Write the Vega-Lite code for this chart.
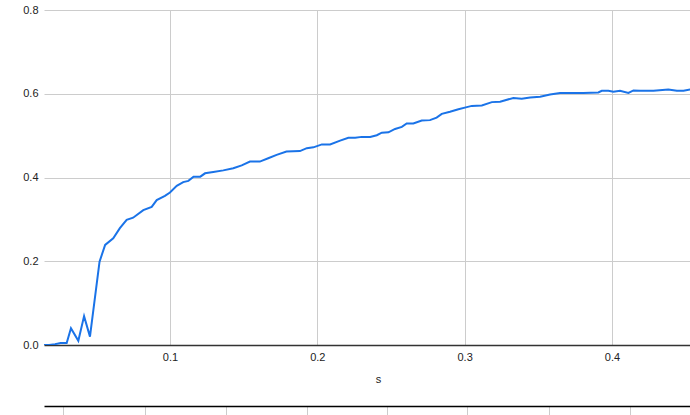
{
  "$schema": "https://vega.github.io/schema/vega-lite/v6.json",
  "autosize": {"type": "none"},
  "width": 646,
  "height": 335,
  "padding": {"left": 44, "top": 10, "right": 0, "bottom": 70},
  "background": "white",
  "config": {
    "view": {"stroke": null},
    "font": "Liberation Sans",
    "axis": {"labelFont": "Liberation Sans", "titleFont": "Liberation Sans", "labelFontSize": 11, "labelColor": "#222", "titleColor": "#222", "titleFontWeight": "normal", "titleFontSize": 11}
  },
  "data": {"values": [
    {"s": 0.0140, "v": 0.0},
    {"s": 0.0180, "v": 0.0},
    {"s": 0.0220, "v": 0.002},
    {"s": 0.0258, "v": 0.005},
    {"s": 0.0299, "v": 0.005},
    {"s": 0.0328, "v": 0.040},
    {"s": 0.0378, "v": 0.010},
    {"s": 0.0417, "v": 0.069},
    {"s": 0.0457, "v": 0.020},
    {"s": 0.0522, "v": 0.199},
    {"s": 0.0560, "v": 0.239},
    {"s": 0.0615, "v": 0.255},
    {"s": 0.0660, "v": 0.279},
    {"s": 0.0706, "v": 0.299},
    {"s": 0.0750, "v": 0.304},
    {"s": 0.0819, "v": 0.322},
    {"s": 0.0876, "v": 0.330},
    {"s": 0.0910, "v": 0.346},
    {"s": 0.0966, "v": 0.356},
    {"s": 0.1000, "v": 0.364},
    {"s": 0.1046, "v": 0.380},
    {"s": 0.1090, "v": 0.389},
    {"s": 0.1125, "v": 0.392},
    {"s": 0.1160, "v": 0.402},
    {"s": 0.1206, "v": 0.402},
    {"s": 0.1238, "v": 0.410},
    {"s": 0.1294, "v": 0.413},
    {"s": 0.1362, "v": 0.417},
    {"s": 0.1430, "v": 0.422},
    {"s": 0.1487, "v": 0.429},
    {"s": 0.1543, "v": 0.438},
    {"s": 0.1610, "v": 0.438},
    {"s": 0.1667, "v": 0.446},
    {"s": 0.1724, "v": 0.454},
    {"s": 0.1791, "v": 0.462},
    {"s": 0.1882, "v": 0.463},
    {"s": 0.1929, "v": 0.470},
    {"s": 0.1974, "v": 0.472},
    {"s": 0.2031, "v": 0.479},
    {"s": 0.2087, "v": 0.479},
    {"s": 0.2155, "v": 0.488},
    {"s": 0.2211, "v": 0.495},
    {"s": 0.2257, "v": 0.495},
    {"s": 0.2302, "v": 0.497},
    {"s": 0.2359, "v": 0.497},
    {"s": 0.2404, "v": 0.501},
    {"s": 0.2438, "v": 0.507},
    {"s": 0.2483, "v": 0.508},
    {"s": 0.2528, "v": 0.516},
    {"s": 0.2574, "v": 0.521},
    {"s": 0.2607, "v": 0.529},
    {"s": 0.2652, "v": 0.529},
    {"s": 0.2709, "v": 0.536},
    {"s": 0.2765, "v": 0.537},
    {"s": 0.2810, "v": 0.543},
    {"s": 0.2845, "v": 0.552},
    {"s": 0.2901, "v": 0.557},
    {"s": 0.2958, "v": 0.563},
    {"s": 0.3015, "v": 0.568},
    {"s": 0.3049, "v": 0.571},
    {"s": 0.3117, "v": 0.572},
    {"s": 0.3185, "v": 0.580},
    {"s": 0.3241, "v": 0.581},
    {"s": 0.3331, "v": 0.590},
    {"s": 0.3388, "v": 0.588},
    {"s": 0.3445, "v": 0.591},
    {"s": 0.3513, "v": 0.593},
    {"s": 0.3580, "v": 0.598},
    {"s": 0.3648, "v": 0.602},
    {"s": 0.3716, "v": 0.602},
    {"s": 0.3806, "v": 0.602},
    {"s": 0.3908, "v": 0.603},
    {"s": 0.3931, "v": 0.607},
    {"s": 0.3976, "v": 0.607},
    {"s": 0.4010, "v": 0.605},
    {"s": 0.4055, "v": 0.607},
    {"s": 0.4112, "v": 0.602},
    {"s": 0.4146, "v": 0.608},
    {"s": 0.4191, "v": 0.607},
    {"s": 0.4282, "v": 0.607},
    {"s": 0.4383, "v": 0.610},
    {"s": 0.4441, "v": 0.607},
    {"s": 0.4486, "v": 0.607},
    {"s": 0.4531, "v": 0.610},
    {"s": 0.4570, "v": 0.610}
  ]},
  "layer": [
    {
      "mark": {"type": "line", "color": "#1a73e8", "strokeWidth": 2, "clip": true},
      "encoding": {
        "x": {"field": "s", "type": "quantitative",
          "scale": {"domain": [0.0145, 0.453], "nice": false, "zero": false},
          "axis": {"orient": "bottom", "title": "s", "values": [0.1, 0.2, 0.3, 0.4], "format": ".1f", "grid": true, "gridColor": "#ccc", "domainColor": "#333", "domainWidth": 1.5, "ticks": false, "labelPadding": 6, "titlePadding": 11, "titleX": 334, "labelFlush": false}},
        "y": {"field": "v", "type": "quantitative",
          "scale": {"domain": [0, 0.8], "nice": false},
          "axis": {"title": null, "values": [0, 0.2, 0.4, 0.6, 0.8], "format": ".1f", "grid": true, "gridColor": "#ccc", "domain": false, "ticks": false, "labelPadding": 6}}
      }
    },
    {
      "mark": {"type": "line", "opacity": 0, "clip": true},
      "encoding": {
        "x": {"field": "s", "type": "quantitative",
          "scale": {"domain": [0.0145, 0.453], "nice": false, "zero": false},
          "axis": {"orient": "bottom", "title": null, "labels": false, "grid": false, "offset": 61, "domainColor": "#000", "domainWidth": 1.5, "tickColor": "#ccc", "tickSize": 9, "values": [0.0274, 0.0831, 0.1381, 0.193, 0.2474, 0.3017, 0.3573, 0.4123]}},
        "y": {"field": "v", "type": "quantitative", "scale": {"domain": [0, 0.8], "nice": false}}
      }
    }
  ],
  "resolve": {"scale": {"x": "independent"}, "axis": {"x": "independent"}}
}
